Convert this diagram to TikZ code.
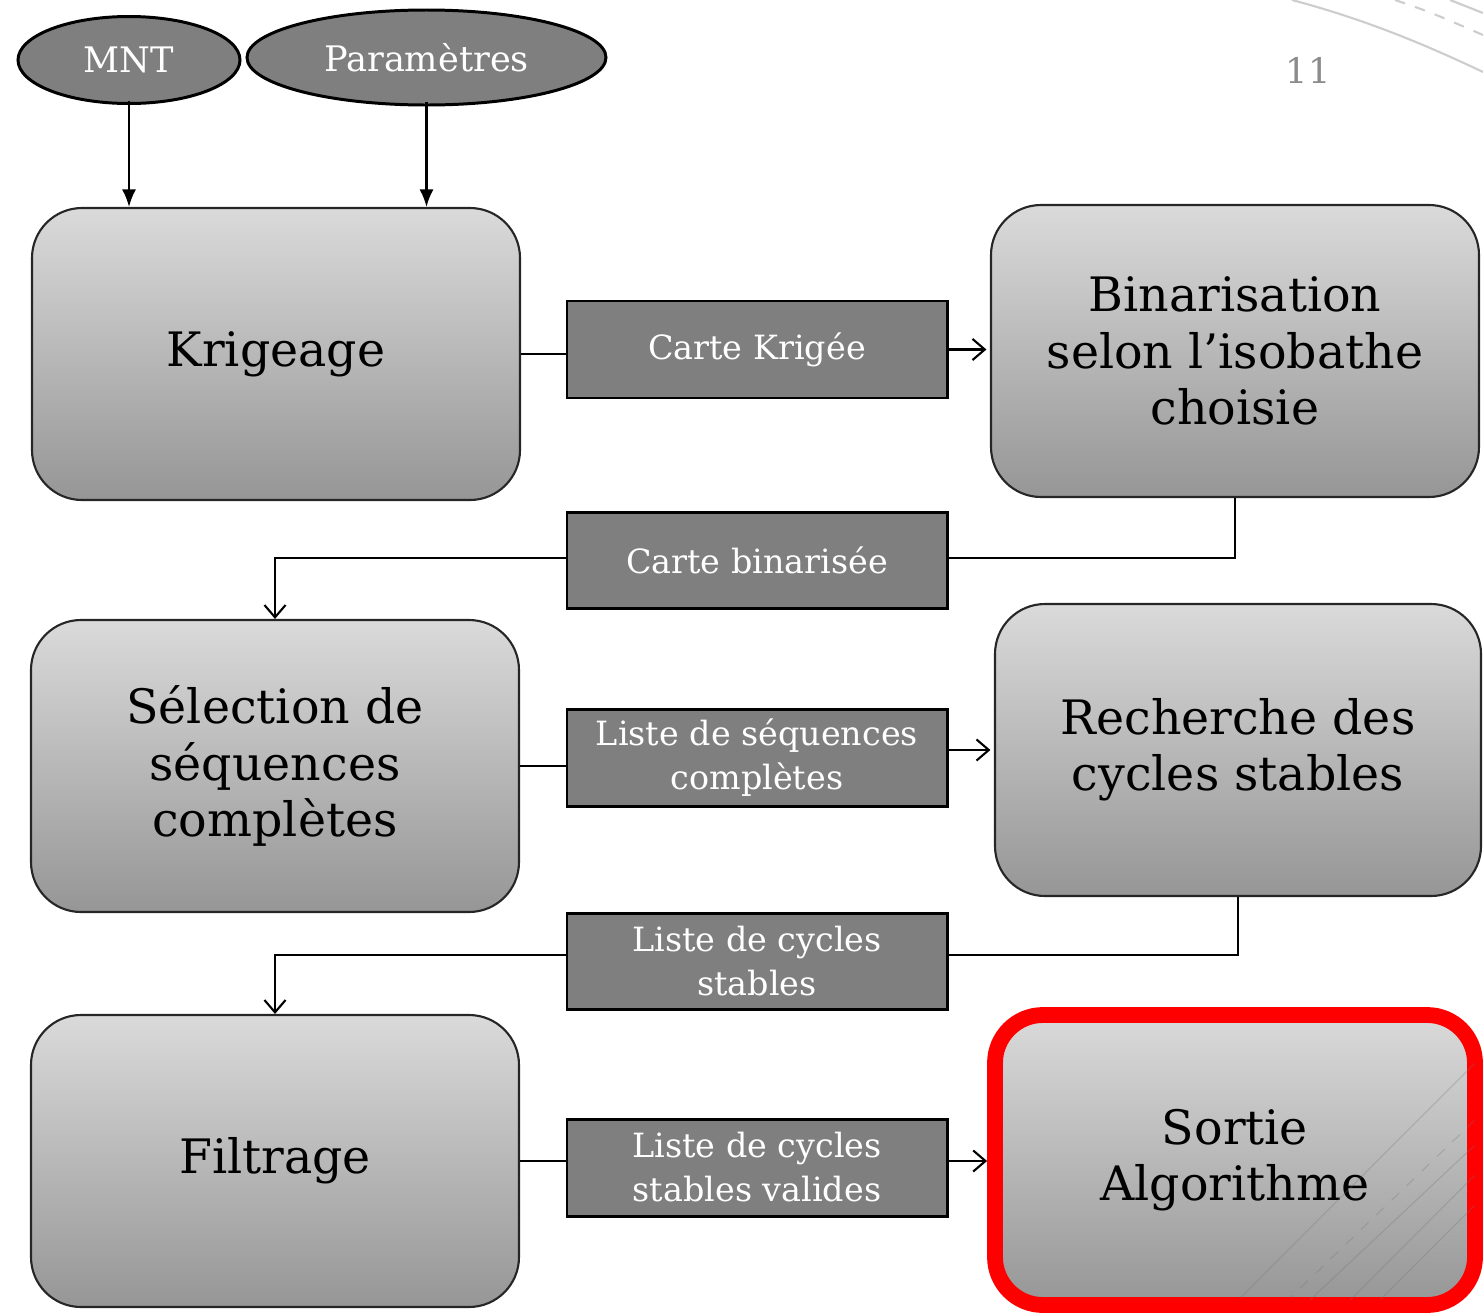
\documentclass[tikz,border=0pt]{standalone}
\usepackage{fontspec}
\setmainfont{DejaVu Serif}
\usepackage{tikz}
\usetikzlibrary{shapes.geometric, arrows.meta, positioning}
\definecolor{labelgray}{RGB}{127,127,127}
\definecolor{shadetop}{RGB}{218,218,218}
\definecolor{shadebottom}{RGB}{150,150,150}
\definecolor{outputred}{RGB}{255,0,0}
\definecolor{ornament}{RGB}{205,205,205}

\tikzset{
  process/.style={draw=black!85, line width=0.6pt, rounded corners=0.5cm,
    top color=shadetop, bottom color=shadebottom, minimum width=4.88cm,
    minimum height=2.92cm, align=center, inner sep=2pt,
    font=\fontsize{13.5}{16}\selectfont},
  datalabel/.style={draw=black, line width=0.85pt, fill=labelgray, text=white,
    minimum width=3.8cm, minimum height=0.97cm, align=center, inner sep=1pt,
    font=\fontsize{9.5}{12.5}\selectfont},
  source/.style={ellipse, draw=black, line width=0.85pt, fill=labelgray,
    text=white, inner sep=1pt, font=\fontsize{10}{12}\selectfont},
  link/.style={line width=0.6pt},
  flow/.style={line width=0.6pt, -{Straight Barb[length=3.5pt, width=6pt]}},
  feed/.style={line width=0.6pt, -{Latex[length=5pt, width=4pt]}},
  streak/.style={black!55, opacity=0.3, line width=0.3pt}
}

\begin{document}
\begin{tikzpicture}
  \useasboundingbox (0,0) rectangle (14.83,-13.13);

  % background ornament
  \draw[ornament, line width=0.6pt] (12.92,0) .. controls (13.6,-0.18) and (14.2,-0.42) .. (14.83,-0.72);
  \draw[ornament, line width=0.6pt, dashed] (13.95,0) .. controls (14.3,-0.12) .. (14.83,-0.35);
  \draw[ornament, line width=0.6pt] (14.5,0) -- (14.83,-0.13);
  \node[text=black!45, font=\fontsize{10}{12}\selectfont] (pagenum) at (13.08,-0.70) {11};

  % inputs
  \node[source, minimum width=2.22cm, minimum height=0.87cm] (mnt) at (1.29,-0.60) {MNT};
  \node[source, minimum width=3.59cm, minimum height=0.95cm] (param) at (4.265,-0.575) {Paramètres};

  % processing steps
  \node[process] (krig) at (2.76,-3.54) {Krigeage};
  \node[process] (binar) at (12.35,-3.51) {Binarisation\\selon l’isobathe\\choisie};
  \node[process] (selec) at (2.75,-7.66) {Sélection de\\séquences\\complètes};
  \node[process, minimum width=4.86cm] (rech) at (12.38,-7.50) {Recherche des\\cycles stables};
  \node[process] (filtr) at (2.75,-11.61) {Filtrage};
  \node[process, draw=outputred, line width=4.5pt, rounded corners=0.48cm,
    minimum width=4.8cm, minimum height=2.9cm] (sortie) at (12.35,-11.60) {Sortie\\Algorithme};

  \begin{scope}
    \clip[rounded corners=0.48cm] ([shift={(0.08,0.08)}]sortie.south west) rectangle ([shift={(-0.08,-0.08)}]sortie.north east);
    \draw[streak] (14.75,-10.63) -- (12.40,-12.98);
    \draw[streak, dashed] (14.75,-11.20) -- (12.90,-12.98);
    \draw[streak] (14.75,-11.45) -- (13.10,-13.00);
    \draw[streak] (14.75,-11.75) -- (13.50,-13.00);
    \draw[streak] (14.75,-12.05) -- (13.80,-13.00);
  \end{scope}

  % intermediate data
  \node[datalabel] (carteK) at (7.57,-3.495) {Carte Krigée};
  \node[datalabel, minimum height=0.96cm] (carteB) at (7.57,-5.60) {Carte binarisée};
  \node[datalabel] (listeSeq) at (7.57,-7.575) {Liste de séquences\\complètes};
  \node[datalabel, minimum height=0.96cm] (listeCyc) at (7.57,-9.61) {Liste de cycles\\stables};
  \node[datalabel] (listeVal) at (7.57,-11.675) {Liste de cycles\\stables valides};

  % connectors
  \draw[feed] ([yshift=0.04cm]mnt.south) -- (mnt.south |- krig.north);
  \draw[feed] ([yshift=0.04cm]param.south) -- (param.south |- krig.north);

  \draw[link] (krig.east) -- (krig.east -| carteK.west);
  \draw[flow, shorten >=1pt] (carteK.east) -- (carteK.east -| binar.west);
  \draw[link] (binar.south) |- ([yshift=0.02cm]carteB.east);
  \draw[flow] ([yshift=0.02cm]carteB.west) -| (selec.north);

  \draw[link] (selec.east) -- (selec.east -| listeSeq.west);
  \draw[flow, shorten >=1pt] (rech.west -| listeSeq.east) -- (rech.west);
  \draw[link] (rech.south) |- ([yshift=0.06cm]listeCyc.east);
  \draw[flow] ([yshift=0.06cm]listeCyc.west) -| (filtr.north);

  \draw[link] (filtr.east) -- (filtr.east -| listeVal.west);
  \draw[flow] (filtr.east -| listeVal.east) -- (filtr.east -| sortie.west);
\end{tikzpicture}
\end{document}
